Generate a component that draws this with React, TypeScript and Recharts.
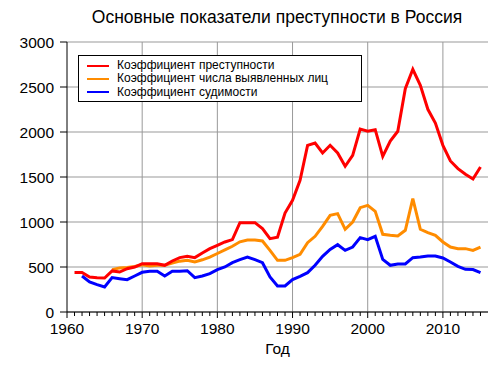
import { CartesianGrid, Line, LineChart, XAxis, YAxis } from "recharts";

// Years 1961-2015 (x categories)
const years = [
  1961, 1962, 1963, 1964, 1965, 1966, 1967, 1968, 1969, 1970,
  1971, 1972, 1973, 1974, 1975, 1976, 1977, 1978, 1979, 1980,
  1981, 1982, 1983, 1984, 1985, 1986, 1987, 1988, 1989, 1990,
  1991, 1992, 1993, 1994, 1995, 1996, 1997, 1998, 1999, 2000,
  2001, 2002, 2003, 2004, 2005, 2006, 2007, 2008, 2009, 2010,
  2011, 2012, 2013, 2014, 2015,
];

// Коэффициент преступности, 1961-2015
const crimeRate = [
  440, 440, 389, 381, 378, 456, 444, 481, 500, 537,
  537, 537, 519, 567, 604, 619, 604, 656, 704, 741,
  778, 804, 993, 993, 993, 926, 815, 830, 1100, 1241,
  1463, 1852, 1878, 1767, 1852, 1767, 1619, 1741, 2033, 2008,
  2026, 1730, 1900, 2008, 2482, 2697, 2519, 2252, 2100, 1852,
  1678, 1593, 1530, 1478, 1611,
];

// Коэффициент числа выявленных лиц, 1966-2015
const suspectsStart = 1966;
const suspectsRate = [
  470, 490, 495, 505, 525,
  510, 520, 520, 545, 565, 575, 555, 580, 610, 650,
  690, 730, 780, 800, 800, 789, 685, 574, 574, 604,
  641, 770, 841, 952, 1074, 1093, 919, 1000, 1159, 1185,
  1119, 863, 852, 845, 908, 1260, 919, 882, 852, 778,
  722, 704, 704, 685, 722,
];

// Коэффициент судимости, 1962-2015
const convictionStart = 1962;
const convictionRate = [
  400, 333, 304, 278, 382, 370, 359, 400, 441,
  452, 452, 400, 452, 452, 459, 382, 400, 426, 471,
  500, 548, 581, 611, 581, 548, 389, 289, 289, 360,
  397, 437, 519, 619, 696, 748, 685, 722, 826, 804,
  841, 585, 519, 534, 534, 604, 611, 622, 622, 600,
  556, 508, 474, 471, 437,
];

const majorYears = [1960, 1970, 1980, 1990, 2000, 2010];
const yTicks = [0, 500, 1000, 1500, 2000, 2500, 3000];

const seriesNames = {
  crime: "Коэффициент преступности",
  suspects: "Коэффициент числа выявленных лиц",
  conviction: "Коэффициент судимости",
};
const colors = { crime: "#ff0000", suspects: "#ff8c00", conviction: "#0000ff" };

const FONT = "'Liberation Sans', Arial, sans-serif";

const data = years.map((year, i) => ({
  year,
  crime: crimeRate[i],
  suspects: year >= suspectsStart ? suspectsRate[year - suspectsStart] : null,
  conviction: year >= convictionStart ? convictionRate[year - convictionStart] : null,
}));

// every year gets a small tick; decades get a label
const allTicks: number[] = [];
for (let y = 1960; y <= 2015; y++) allTicks.push(y);

const YearTick = (props: any) => {
  const { x, y, payload } = props;
  const major = majorYears.includes(payload.value);
  return (
    <g>
      <line x1={x} x2={x} y1={y} y2={y + (major ? 6 : 4)} stroke="#000" />
      {major && (
        <text x={x} y={y + 22} textAnchor="middle" fontSize={15.5} fill="#000" fontFamily={FONT}>
          {payload.value}
        </text>
      )}
    </g>
  );
};

// legend drawn as an overlay so it doesn't eat plot space
const LegendBox = () => (
  <div
    style={{
      position: "absolute",
      left: 78,
      top: 55,
      border: "1px solid #000",
      background: "#fff",
      width: 284,
      height: 47,
      boxSizing: "border-box",
      paddingTop: 3,
      fontSize: 12,
      color: "#000",
    }}
  >
    {(["crime", "suspects", "conviction"] as const).map((key) => (
      <div key={key} style={{ display: "flex", alignItems: "center", height: 13.3, lineHeight: "13.3px" }}>
        <svg width={38} height={8}>
          <line x1={8} x2={30} y1={4} y2={4} stroke={colors[key]} strokeWidth={2} />
        </svg>
        <span>{seriesNames[key]}</span>
      </div>
    ))}
  </div>
);

export default function App() {
  return (
    <div style={{ position: "absolute", left: 0, top: 0, width: 500, height: 374, background: "#fff", fontFamily: FONT }}>
      <div
        style={{
          position: "absolute",
          left: 67,
          width: 420,
          top: 7,
          textAlign: "center",
          fontSize: 17.5,
          color: "#000",
        }}
      >
        Основные показатели преступности в Россия
      </div>
      <LineChart width={500} height={374} data={data} margin={{ top: 42, right: 12, bottom: 0, left: 0 }}>
        <CartesianGrid stroke="#999" strokeWidth={1} verticalValues={[1970, 1980, 1990, 2000, 2010]} horizontalValues={yTicks} />
        <XAxis
          type="number"
          dataKey="year"
          domain={[1960, 2016]}
          ticks={allTicks}
          interval={0}
          tick={<YearTick />}
          tickLine={false}
          tickSize={0}
          tickMargin={0}
          height={62}
          axisLine={{ stroke: "#000" }}
          allowDataOverflow
          label={{ value: "Год", position: "insideBottom", offset: 20, fill: "#000", fontSize: 15.5, fontFamily: FONT }}
        />
        <YAxis
          domain={[0, 3000]}
          ticks={yTicks}
          interval={0}
          width={67}
          tickSize={7}
          tickMargin={6}
          tick={{ fill: "#000", fontSize: 15.5, fontFamily: FONT }}
          tickLine={{ stroke: "#000" }}
          axisLine={{ stroke: "#000" }}
        />
        <Line type="linear" dataKey="conviction" name={seriesNames.conviction} stroke={colors.conviction} strokeWidth={3} dot={false} isAnimationActive={false} />
        <Line type="linear" dataKey="suspects" name={seriesNames.suspects} stroke={colors.suspects} strokeWidth={3} dot={false} isAnimationActive={false} />
        <Line type="linear" dataKey="crime" name={seriesNames.crime} stroke={colors.crime} strokeWidth={3} dot={false} isAnimationActive={false} />
      </LineChart>
      <LegendBox />
    </div>
  );
}
